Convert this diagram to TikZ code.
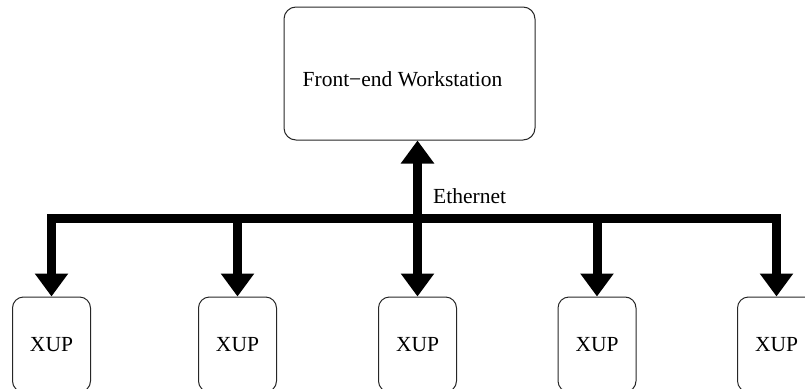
\documentclass[tikz,border=0pt]{standalone}
\usepackage{fontspec}
\setmainfont{Liberation Serif}
\usetikzlibrary{arrows.meta}
\begin{document}
\begin{tikzpicture}[x=1pt,y=-1pt,
  box/.style={draw=black!85, line width=1pt, rounded corners=11pt, minimum width=78pt, minimum height=95pt, inner sep=0pt, font=\fontsize{21.5}{24}\selectfont},
  wire/.style={line width=9pt, line join=miter, >={Triangle[length=23pt,width=32pt]}},
  lbl/.style={font=\fontsize{21.5}{24}\selectfont, inner sep=0pt}]
\useasboundingbox (0,0) rectangle (805,388);
\clip (0,0) rectangle (805,388);
\node[box, minimum width=251pt, minimum height=133pt, rounded corners=12pt] (fe) at (409.5,73.5) {};
\node[lbl, anchor=base] (fet) at (402.5,86) {Front−end Workstation};
\node[box] (x1) at (51.5,344.5) {XUP};
\node[box] (x2) at (237.5,344.5) {XUP};
\node[box] (x3) at (417.5,344.5) {XUP};
\node[box] (x4) at (597,344.5) {XUP};
\node[box] (x5) at (776.5,344.5) {XUP};
\coordinate (busy) at (0,218);
\draw[wire, <->] (x1.north) -- (x1.north |- busy) -- (x5.north |- busy) -- (x5.north);
\draw[wire, ->] (x2.north |- busy) -- (x2.north);
\draw[wire, ->] (x4.north |- busy) -- (x4.north);
\draw[wire, <->] (x3.north) -- (x3.north |- fe.south);
\node[lbl, anchor=base west] (eth) at (433,203) {Ethernet};
\end{tikzpicture}
\end{document}
